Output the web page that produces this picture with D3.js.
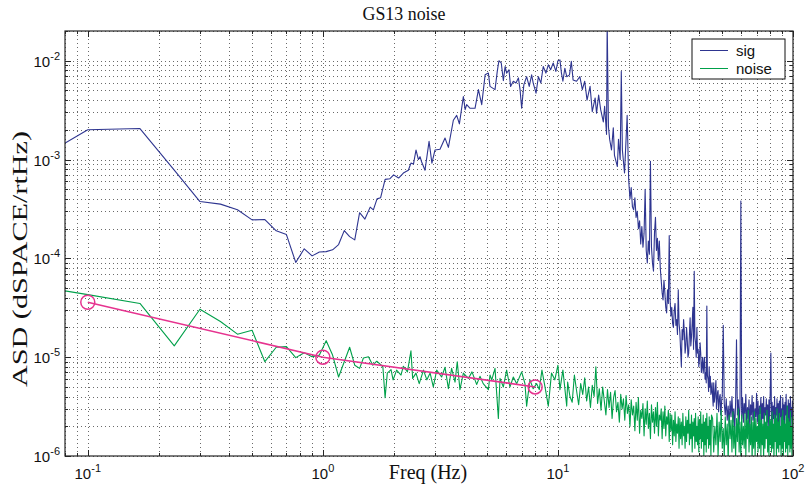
<!DOCTYPE html>
<html>
<head>
<meta charset="utf-8">
<script src="https://cdn.jsdelivr.net/npm/d3@7"></script>
<style>
  body { margin: 0; background: #fff; }
  svg { display: block; }
  .grid line { stroke: #6a6a6a; stroke-dasharray: 1,3; shape-rendering: crispEdges; }
  .tk line { stroke: #262626; shape-rendering: crispEdges; }
  .ticklabel { font-family: "Liberation Sans", Arial, sans-serif; font-size: 15px; fill: #111; }
  .serif { font-family: "Liberation Serif", "Times New Roman", serif; fill: #111; }
</style>
</head>
<body>
<div class="main"></div>
<script>
// ---- data ----
// low / mid frequency part of "sig" (Hz, ASD)
const sigFreq = [0.0333, 0.1, 0.1667, 0.2333, 0.3, 0.3667, 0.4333, 0.5, 0.5667, 0.6333, 0.7, 0.7667, 0.8333, 0.9, 0.9667,
  1.0333, 1.1, 1.1667, 1.2333, 1.3, 1.3667, 1.4333, 1.51, 1.59, 1.64, 1.70, 1.76, 1.84, 1.93, 2.0, 2.1, 2.2, 2.31, 2.37,
  2.43, 2.49, 2.55, 2.59, 2.63, 2.72, 2.83, 2.91, 3.0, 3.15, 3.31, 3.42, 3.59, 3.71, 3.81, 3.96, 4.03, 4.09, 4.23, 4.44,
  4.59, 4.74, 4.90, 5.06, 5.14, 5.40, 5.52, 5.61, 5.74, 5.86, 5.96, 6.05, 6.19, 6.29, 6.46, 6.63, 6.79, 6.90, 7.01, 7.16,
  7.36, 7.55, 7.73, 7.85, 8.07, 8.26, 8.46, 8.66, 8.89, 9.1, 9.31, 9.55, 9.8, 10.0, 10.2, 10.35, 10.5, 10.7, 10.9, 11.2,
  11.4, 11.6, 12.0, 12.4, 12.7, 13.0, 13.3, 13.7, 14.0, 14.4, 14.6, 14.9, 15.2, 15.6, 15.8, 16.1, 16.2, 16.4, 16.6, 16.9,
  17.2, 17.4, 17.9, 18.1, 18.4, 18.6, 18.8, 19.2, 19.7];
const sigASD = [4.3e-4, 2.0e-3, 2.06e-3, 7.8e-4, 3.76e-4, 3.54e-4, 3.1e-4, 2.45e-4, 2.47e-4, 1.9e-4, 1.74e-4, 9.1e-5, 1.25e-4, 1.06e-4, 1.16e-4,
  1.17e-4, 1.22e-4, 1.38e-4, 1.91e-4, 1.66e-4, 1.54e-4, 2.9e-4, 2.5e-4, 3.3e-4, 3.1e-4, 4.0e-4, 4.1e-4, 6.3e-4, 6.4e-4, 7.0e-4, 6.5e-4, 7.3e-4, 7.8e-4, 9.2e-4,
  9.0e-4, 1.25e-3, 1.0e-3, 1.07e-3, 9.5e-4, 7.8e-4, 1.53e-3, 9.2e-4, 1.25e-3, 1.27e-3, 1.65e-3, 1.33e-3, 2.5e-3, 2.8e-3, 2.3e-3, 4.35e-3, 3.2e-3, 3.6e-3, 3.3e-3, 3.3e-3,
  5.1e-3, 3.6e-3, 7.2e-3, 7.5e-3, 5.5e-3, 5.1e-3, 7.8e-3, 1.0e-2, 9.5e-3, 6.3e-3, 8.75e-3, 7.5e-3, 8.1e-3, 5.5e-3, 6.2e-3, 5.95e-3, 6.7e-3, 5.1e-3, 3.3e-3, 5.7e-3,
  6.9e-3, 5.5e-3, 7.2e-3, 5.95e-3, 4.7e-3, 6.9e-3, 5.95e-3, 8.75e-3, 7.5e-3, 9.1e-3, 8.1e-3, 9.5e-3, 7.8e-3, 1.0e-2, 1.02e-2, 7.5e-3, 6.2e-3, 8.4e-3, 6.9e-3, 7.2e-3,
  9.85e-3, 6.4e-3, 6.2e-3, 6.9e-3, 5.1e-3, 6.2e-3, 4.0e-3, 5.5e-3, 3.05e-3, 4.2e-3, 2.95e-3, 4.5e-3, 3.2e-3, 2.4e-3, 3.45e-3, 1.8e-3, 2.5e-2, 2.15e-3, 1.6e-3, 1.25e-3,
  2.1e-3, 1.1e-3, 8.5e-4, 1.6e-3, 1.0e-3, 7.8e-3, 1.25e-3, 7.3e-4, 2.8e-3];
// "sig" 20-50 Hz, one value every 0.25 Hz
const sigMidStart = 20, sigMidStep = 0.25;
const sigMid = [6.2e-4, 4.0e-4, 5.2e-4, 3.3e-4, 3.1e-4, 4.1e-4, 2.6e-4, 3.0e-4, 2.0e-4, 2.4e-4, 1.4e-4, 2.1e-4, 1.3e-4, 1.8e-4, 5.0e-4, 1.2e-4,
  9.0e-5, 1.5e-4, 1.1e-4, 9.6e-4, 1.3e-4, 9.0e-5, 7.4e-5, 1.8e-4, 2.6e-4, 1.2e-4, 1.6e-4, 9.5e-5, 1.5e-4, 8.0e-5, 6.0e-5, 4.5e-5,
  3.8e-5, 6.0e-5, 4.5e-5, 3.2e-5, 2.8e-5, 4.8e-5, 3.5e-5, 1.7e-4, 3.8e-5, 2.6e-5, 3.2e-5, 2.2e-5, 2.0e-5, 3.0e-5, 3.5e-5, 2.1e-5,
  2.4e-5, 1.7e-5, 4.8e-5, 2.2e-5, 1.8e-5, 1.2e-5, 8.0e-6, 1.9e-5, 1.5e-5, 2.4e-5, 1.8e-5, 1.1e-5, 1.3e-5, 2.0e-5, 1.5e-5, 1.0e-5,
  1.1e-5, 1.7e-5, 2.5e-5, 1.3e-5, 1.6e-5, 2.2e-5, 3.2e-5, 1.2e-5, 7.4e-5, 1.6e-5, 1.4e-5, 1.0e-5, 2.0e-5, 1.1e-5, 1.2e-5, 8.0e-6,
  9.4e-6, 1.4e-5, 1.1e-5, 7.0e-6, 8.0e-6, 1.0e-5, 6.9e-6, 8.5e-6, 1.0e-5, 6.0e-6, 7.0e-6, 5.5e-6, 3.3e-5, 6.5e-6, 6.0e-6, 4.5e-6,
  8.0e-6, 5.0e-6, 6.4e-6, 4.2e-6, 4.5e-6, 5.5e-6, 4.0e-6, 3.2e-6, 5.5e-6, 3.5e-6, 3.9e-6, 4.8e-6, 5.8e-6, 3.0e-6, 3.6e-6, 4.4e-6,
  4.6e-6, 2.8e-6, 3.4e-6, 4.0e-6, 4.2e-6, 2.6e-6, 3.0e-6, 3.7e-6, 4.0e-6];
// "sig" above 50 Hz, one value every 0.5 Hz starting at 50.5 Hz
const sigHiStart = 50.5, hiStep = 0.5;
const sigHi = [2.1e-5, 3.4e-6, 2.6e-6,
  3.8e-6, 2.3e-6, 3.2e-6, 2.0e-6, 3.6e-6, 2.5e-6, 4.0e-6, 2.2e-6, 3.0e-6, 1.8e-6, 3.5e-6, 1.5e-5, 2.6e-6, 3.7e-6, 2.1e-6, 3.3e-6,
  3.8e-4, 2.4e-6, 3.9e-6, 2.2e-6, 3.4e-6, 2.7e-6, 4.2e-6, 2.0e-6, 3.1e-6, 2.4e-6, 3.7e-6, 1.9e-6, 3.3e-6, 2.6e-6, 4.1e-6, 2.3e-6,
  3.5e-6, 2.0e-6, 3.0e-6, 2.5e-6, 4.3e-6, 2.2e-6, 3.6e-6, 1.8e-6, 3.2e-6, 2.7e-6, 3.9e-6, 2.1e-6, 3.4e-6, 2.4e-6, 4.0e-6, 1.9e-6,
  3.1e-6, 2.6e-6, 3.8e-6, 2.2e-6, 3.3e-6, 2.0e-6, 3.7e-6, 2.5e-6, 4.4e-6, 1.1e-5, 2.3e-6, 3.5e-6, 2.1e-6, 3.2e-6, 2.4e-6, 4.0e-6,
  1.8e-6, 3.1e-6, 2.6e-6, 3.8e-6, 2.2e-6, 3.4e-6, 2.0e-6, 3.6e-6, 2.5e-6, 4.1e-6, 1.9e-6, 3.0e-6, 2.4e-6, 3.9e-6, 2.1e-6, 3.3e-6,
  1.7e-6, 3.5e-6, 2.6e-6, 4.2e-6, 2.0e-6, 3.2e-6, 2.3e-6, 3.7e-6, 1.8e-6, 3.4e-6, 2.2e-6, 4.0e-6, 2.5e-6, 3.1e-6, 1.9e-6, 3.6e-6,
  2.4e-6];

// low / mid frequency part of "noise"
const noiseFreq = [0.0333, 0.1, 0.1667, 0.2333, 0.3, 0.3667, 0.4333, 0.5, 0.5667, 0.6333, 0.7, 0.7667, 0.8333, 0.9, 0.9667,
  1.0333, 1.1, 1.1667, 1.2333, 1.3, 1.3667, 1.4333, 1.488, 1.563, 1.631, 1.696, 1.752, 1.8, 1.84, 1.88, 1.95, 1.99, 2.06,
  2.15, 2.2, 2.29, 2.37, 2.41, 2.49, 2.57, 2.68, 2.77, 2.86, 2.95, 3.05, 3.2, 3.31, 3.42, 3.53, 3.65, 3.73, 3.83, 3.96,
  4.16, 4.31, 4.51, 4.66, 4.81, 5.06, 5.14, 5.23, 5.40, 5.58, 5.67, 5.86, 6.05, 6.25, 6.46, 6.68, 7.01, 7.24, 7.36, 7.6,
  7.85, 8.12, 8.33, 8.55, 8.81, 9.1, 9.39, 9.7, 10.0, 10.2, 10.5, 10.9];
const noiseASD = [6.6e-5, 4.3e-5, 3.5e-5, 1.3e-5, 3.06e-5, 2.3e-5, 1.71e-5, 1.87e-5, 9.0e-6, 1.26e-5, 1.28e-5, 9.9e-6, 1.11e-5, 1.01e-5, 1.05e-5,
  1.47e-5, 1.05e-5, 6.3e-6, 9.0e-6, 1.26e-5, 8.3e-6, 7.7e-6, 9.8e-6, 1.01e-5, 8.3e-6, 9.1e-6, 8.5e-6, 8.0e-6, 3.9e-6, 6.9e-6, 7.5e-6, 5.9e-6, 7.4e-6,
  6.6e-6, 8.1e-6, 7.1e-6, 1.16e-5, 6.1e-6, 6.9e-6, 5.4e-6, 7.4e-6, 5.9e-6, 6.9e-6, 5.0e-6, 7.4e-6, 6.3e-6, 7.9e-6, 4.8e-6, 7.7e-6, 5.6e-6, 9.0e-6, 4.7e-6, 6.9e-6,
  6.1e-6, 7.1e-6, 5.3e-6, 6.4e-6, 5.4e-6, 4.7e-6, 6.6e-6, 5.9e-6, 7.7e-6, 2.4e-6, 6.1e-6, 5.0e-6, 7.4e-6, 5.0e-6, 6.3e-6, 5.4e-6, 7.1e-6, 5.4e-6, 3.2e-6, 5.9e-6,
  4.8e-6, 5.4e-6, 4.7e-6, 7.4e-6, 5.0e-6, 3.2e-6, 6.9e-6, 5.9e-6, 8.3e-6, 4.7e-6, 7.4e-6, 3.2e-6];
// "noise" 11-45 Hz, one value every 0.25 Hz
const noiseMidStart = 11, noiseMidStep = 0.25;
const noiseMid = [5.6e-6, 4.0e-6, 3.5e-6, 6.6e-6, 4.6e-6, 3.3e-6, 5.4e-6, 4.2e-6, 6.2e-6, 3.6e-6, 5.0e-6, 3.1e-6, 5.2e-6,
  4.0e-6, 8.0e-6, 3.4e-6, 4.8e-6, 2.9e-6, 5.0e-6, 3.6e-6, 2.6e-6, 4.7e-6, 3.1e-6, 4.4e-6, 2.4e-6,
  3.9e-6, 4.6e-6, 2.8e-6, 3.5e-6, 2.2e-6, 4.2e-6, 3.0e-6, 3.8e-6, 2.3e-6, 4.1e-6, 2.7e-6, 3.3e-6,
  2.0e-6, 3.7e-6, 2.6e-6, 3.2e-6, 1.8e-6, 3.5e-6, 2.3e-6, 3.9e-6, 1.7e-6, 2.9e-6, 2.4e-6, 3.4e-6, 1.6e-6, 3.0e-6, 2.1e-6, 3.6e-6,
  1.9e-6, 2.7e-6, 1.5e-6, 3.3e-6, 2.2e-6, 2.8e-6, 1.7e-6, 3.1e-6, 2.0e-6, 3.5e-6, 1.6e-6, 2.6e-6, 2.3e-6, 3.0e-6, 1.5e-6, 2.8e-6,
  1.9e-6, 3.2e-6, 1.6e-6, 2.5e-6, 2.1e-6, 2.9e-6, 1.4e-6, 2.7e-6,
  1.8e-6, 2.6e-6, 1.3e-6, 2.3e-6, 1.6e-6, 2.8e-6, 1.4e-6, 2.1e-6, 1.7e-6, 2.5e-6, 1.2e-6, 2.4e-6, 1.5e-6, 2.2e-6, 1.3e-6, 2.7e-6,
  1.6e-6, 2.0e-6, 1.2e-6, 2.5e-6, 1.4e-6, 2.3e-6, 1.7e-6, 2.9e-6, 1.3e-6, 2.1e-6, 1.5e-6, 2.6e-6, 1.1e-6, 2.2e-6, 1.6e-6, 2.4e-6,
  1.2e-6, 2.7e-6, 1.4e-6, 2.0e-6, 1.3e-6, 2.5e-6, 1.1e-6, 2.3e-6, 1.5e-6, 2.8e-6, 1.2e-6, 2.1e-6, 1.4e-6, 2.6e-6, 1.0e-6, 2.2e-6,
  1.3e-6, 2.4e-6, 1.1e-6, 2.7e-6, 1.5e-6, 2.0e-6, 1.2e-6, 2.5e-6, 1.3e-6, 2.3e-6, 1.0e-6, 2.6e-6];
// "noise" above 45 Hz, one value every 0.5 Hz starting at 45.5 Hz
const noiseHiStart = 45.5;
const noiseHi = [2.4e-6, 1.1e-6, 2.0e-6, 1.3e-6, 2.7e-6, 1.0e-6, 2.2e-6, 1.4e-6, 2.9e-6, 1.2e-6, 1.9e-6, 1.0e-6, 2.5e-6, 1.3e-6, 2.1e-6, 0.9e-6,
  2.6e-6, 1.5e-6, 2.3e-6, 1.1e-6, 2.8e-6, 1.2e-6, 2.0e-6, 1.0e-6, 2.4e-6, 1.4e-6, 3.0e-6, 1.1e-6, 2.2e-6, 0.95e-6, 2.6e-6, 1.3e-6,
  2.0e-6, 1.2e-6, 2.7e-6, 1.0e-6, 2.3e-6, 1.5e-6, 2.9e-6, 1.1e-6, 2.1e-6, 1.3e-6, 2.5e-6, 0.9e-6, 2.2e-6, 1.2e-6, 2.8e-6, 1.0e-6,
  2.4e-6, 1.4e-6, 2.0e-6, 1.1e-6, 2.6e-6, 1.2e-6, 3.1e-6, 1.0e-6, 2.3e-6, 1.3e-6, 2.1e-6, 0.95e-6, 2.7e-6, 1.2e-6, 2.2e-6, 1.5e-6,
  2.9e-6, 1.1e-6, 2.0e-6, 1.0e-6, 2.5e-6, 1.3e-6, 2.3e-6, 1.1e-6, 2.8e-6, 1.2e-6, 2.1e-6, 0.9e-6, 2.6e-6, 1.4e-6, 2.4e-6, 1.0e-6,
  3.0e-6, 1.2e-6, 2.2e-6, 1.1e-6, 2.7e-6, 1.3e-6, 2.0e-6, 0.95e-6, 2.5e-6, 1.2e-6, 2.9e-6, 1.0e-6, 2.3e-6, 1.4e-6, 2.1e-6, 1.1e-6,
  2.6e-6, 1.2e-6, 3.2e-6, 1.0e-6, 2.4e-6, 1.3e-6, 2.2e-6, 1.1e-6, 2.8e-6, 1.2e-6, 2.0e-6, 1.0e-6, 2.5e-6, 1.3e-6];

// magenta fit through three marked points
const fitFreq = [0.1, 1, 8];
const fitASD = [3.6e-5, 1.0e-5, 5.0e-6];

const seriesNames = ["sig", "noise"];
const seriesColors = ["#2e3590", "#00a04a"];

// ---- layout ----
const W = 805, H = 490;
const pL = 65, pT = 31, pR = 793, pB = 456;

const svg = d3.select("div.main").append("svg")
  .attr("width", W)
  .attr("height", H);

const x = d3.scaleLog().domain([0.08, 100]).range([pL, pR]);
const y = d3.scaleLog().domain([1e-6, 0.02]).range([pB, pT]);

function isDecade(d) {
  const l = Math.log10(d);
  return Math.abs(l - Math.round(l)) < 1e-9;
}
const xTicks = x.ticks(), yTicks = y.ticks();
const xMajor = xTicks.filter(isDecade), xMinor = xTicks.filter(d => !isDecade(d));
const yMajor = yTicks.filter(isDecade), yMinor = yTicks.filter(d => !isDecade(d));

// dotted grid (major + minor)
svg.append("g").attr("class", "grid")
  .attr("transform", "translate(0," + pB + ")")
  .call(d3.axisBottom(x).tickValues(xTicks).tickSize(-(pB - pT)).tickFormat(""))
  .call(g => g.select(".domain").remove());
svg.append("g").attr("class", "grid")
  .attr("transform", "translate(" + pL + ",0)")
  .call(d3.axisLeft(y).tickValues(yTicks).tickSize(-(pR - pL)).tickFormat(""))
  .call(g => g.select(".domain").remove());

// clip for the traces
svg.append("clipPath").attr("id", "plotclip")
  .append("rect").attr("x", pL).attr("y", pT).attr("width", pR - pL).attr("height", pB - pT);

const line = d3.line().x(d => x(d[0])).y(d => y(d[1]));

const onGrid = (vals, start, step) => vals.map((v, i) => [start + i * step, v]);
const sigPts = d3.zip(sigFreq, sigASD)
  .concat(onGrid(sigMid, sigMidStart, sigMidStep))
  .concat(onGrid(sigHi, sigHiStart, hiStep));
const noisePts = d3.zip(noiseFreq, noiseASD)
  .concat(onGrid(noiseMid, noiseMidStart, noiseMidStep))
  .concat(onGrid(noiseHi, noiseHiStart, hiStep));
const fitPts = d3.zip(fitFreq, fitASD);

const plot = svg.append("g").attr("clip-path", "url(#plotclip)");
plot.append("path").datum(sigPts)
  .attr("d", line).attr("fill", "none")
  .attr("stroke", seriesColors[0]).attr("stroke-width", 1.1).attr("stroke-linejoin", "round");
plot.append("path").datum(noisePts)
  .attr("d", line).attr("fill", "none")
  .attr("stroke", seriesColors[1]).attr("stroke-width", 1.1).attr("stroke-linejoin", "round");
plot.append("path").datum(fitPts)
  .attr("d", line).attr("fill", "none")
  .attr("stroke", "#e6338f").attr("stroke-width", 1.6);
plot.selectAll("circle.fit").data(fitPts).join("circle")
  .attr("class", "fit")
  .attr("cx", d => x(d[0])).attr("cy", d => y(d[1])).attr("r", 7)
  .attr("fill", "none").attr("stroke", "#e6338f").attr("stroke-width", 1.5);

// inward ticks on all four sides
function tickRow(axis, tr, values, size) {
  svg.append("g").attr("class", "tk").attr("transform", tr)
    .call(axis.tickValues(values).tickSize(size).tickFormat(""))
    .call(g => g.select(".domain").remove());
}
tickRow(d3.axisBottom(x), "translate(0," + pB + ")", xMinor, -3);
tickRow(d3.axisBottom(x), "translate(0," + pB + ")", xMajor, -6);
tickRow(d3.axisTop(x), "translate(0," + pT + ")", xMinor, -3);
tickRow(d3.axisTop(x), "translate(0," + pT + ")", xMajor, -6);
tickRow(d3.axisLeft(y), "translate(" + pL + ",0)", yMinor, -3);
tickRow(d3.axisLeft(y), "translate(" + pL + ",0)", yMajor, -6);
tickRow(d3.axisRight(y), "translate(" + pR + ",0)", yMinor, -3);
tickRow(d3.axisRight(y), "translate(" + pR + ",0)", yMajor, -6);

// box
svg.append("rect")
  .attr("x", pL).attr("y", pT).attr("width", pR - pL).attr("height", pB - pT)
  .attr("fill", "none").attr("stroke", "#262626").attr("stroke-width", 1.2);

// tick labels 10^n
function powLabel(sel) {
  sel.each(function(d) {
    const t = d3.select(this);
    t.append("tspan").text("10");
    t.append("tspan").attr("dy", -7).attr("font-size", 11).text(Math.round(Math.log10(d)));
  });
}
svg.append("g").selectAll("text").data(xMajor).join("text")
  .attr("class", "ticklabel")
  .attr("x", d => x(d)).attr("y", 479)
  .attr("text-anchor", "middle")
  .call(powLabel);
svg.append("g").selectAll("text").data(yMajor).join("text")
  .attr("class", "ticklabel")
  .attr("x", 60).attr("y", d => y(d) + 6)
  .attr("text-anchor", "end")
  .call(powLabel);

// titles
svg.append("text").attr("class", "serif")
  .attr("x", 404).attr("y", 20)
  .attr("text-anchor", "middle").attr("font-size", 19)
  .attr("textLength", 83).attr("lengthAdjust", "spacingAndGlyphs")
  .text("GS13 noise");
svg.append("text").attr("class", "serif")
  .attr("x", 428).attr("y", 479)
  .attr("text-anchor", "middle").attr("font-size", 20)
  .text("Freq (Hz)");
svg.append("text").attr("class", "serif")
  .attr("transform", "translate(27,259) rotate(-90)")
  .attr("text-anchor", "middle").attr("font-size", 22)
  .attr("textLength", 256).attr("lengthAdjust", "spacingAndGlyphs")
  .text("ASD (dSPACE/rtHz)");

// legend
const lg = svg.append("g");
lg.append("rect").attr("x", 692).attr("y", 39).attr("width", 93).attr("height", 40)
  .attr("fill", "#fff").attr("stroke", "#111").attr("stroke-width", 1);
const items = lg.selectAll("g.item").data(seriesNames).join("g")
  .attr("class", "item")
  .attr("transform", (d, i) => "translate(0," + (50.5 + i * 18) + ")");
items.append("line").attr("x1", 700).attr("x2", 728)
  .attr("stroke", (d, i) => seriesColors[i]).attr("stroke-width", 1);
items.append("text").attr("class", "ticklabel")
  .attr("x", 736).attr("y", 5.5).attr("font-size", 16)
  .text(d => d);
</script>
</body>
</html>
